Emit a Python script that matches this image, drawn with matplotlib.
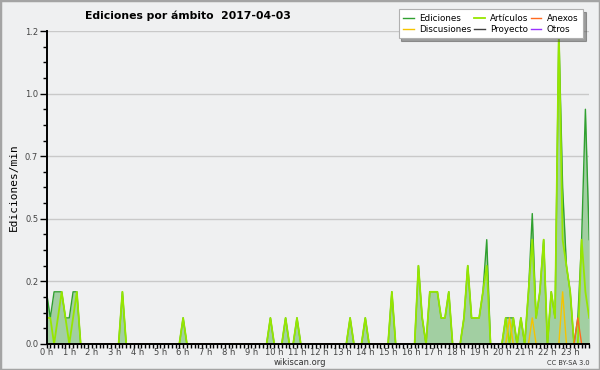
import numpy as np
import matplotlib
matplotlib.use("Agg")
import matplotlib.pyplot as plt
from matplotlib.patches import Rectangle
from matplotlib.ticker import FixedLocator, MultipleLocator

# ─── Data: edits per minute, one value per 10 minutes (144 bins) ──────────────
# each row = 2 hours (12 bins)
ediciones = [
    0.2, 0.1, 0.2, 0.2, 0.2, 0.1, 0.1, 0.2, 0.2, 0, 0, 0,
    0, 0, 0, 0, 0, 0, 0, 0, 0.2, 0, 0, 0,
    0, 0, 0, 0, 0, 0, 0, 0, 0, 0, 0, 0,
    0.1, 0, 0, 0, 0, 0, 0, 0, 0, 0, 0, 0,
    0, 0, 0, 0, 0, 0, 0, 0, 0, 0, 0, 0.1,
    0, 0, 0, 0.1, 0, 0, 0.1, 0, 0, 0, 0, 0,
    0, 0, 0, 0, 0, 0, 0, 0, 0.1, 0, 0, 0,
    0.1, 0, 0, 0, 0, 0, 0, 0.2, 0, 0, 0, 0,
    0, 0, 0.3, 0.1, 0, 0.2, 0.2, 0.2, 0.1, 0.1, 0.2, 0,
    0, 0, 0.1, 0.3, 0.1, 0.1, 0.1, 0.2, 0.4, 0, 0, 0,
    0, 0.1, 0.1, 0.1, 0, 0.1, 0, 0.2, 0.5, 0.1, 0.2, 0.4,
    0, 0.2, 0.1, 1.2, 0.6, 0.3, 0.2, 0, 0.1, 0.4, 0.9, 0.4,
]
articulos = [
    0.1, 0.1, 0, 0.1, 0.2, 0.1, 0, 0.1, 0.2, 0, 0, 0,
    0, 0, 0, 0, 0, 0, 0, 0, 0.2, 0, 0, 0,
    0, 0, 0, 0, 0, 0, 0, 0, 0, 0, 0, 0,
    0.1, 0, 0, 0, 0, 0, 0, 0, 0, 0, 0, 0,
    0, 0, 0, 0, 0, 0, 0, 0, 0, 0, 0, 0.1,
    0, 0, 0, 0.1, 0, 0, 0.1, 0, 0, 0, 0, 0,
    0, 0, 0, 0, 0, 0, 0, 0, 0.1, 0, 0, 0,
    0.1, 0, 0, 0, 0, 0, 0, 0.2, 0, 0, 0, 0,
    0, 0, 0.3, 0.1, 0, 0.2, 0.2, 0.2, 0.1, 0.1, 0.2, 0,
    0, 0, 0.1, 0.3, 0.1, 0.1, 0.1, 0.2, 0.3, 0, 0, 0,
    0, 0.1, 0, 0.1, 0, 0.1, 0, 0.2, 0.4, 0.1, 0.2, 0.4,
    0, 0.2, 0.1, 1.2, 0.4, 0.3, 0.2, 0, 0, 0.4, 0.2, 0.1,
]
# sparse namespaces: {bin: value}
discusiones_pts = {122: 0.1, 128: 0.1, 136: 0.2}
anexos_pts = {140: 0.1}
proyecto_pts = {}
otros_pts = {}

hour_labels = [f"{h} h" for h in range(24)]

# ─── Colours ──────────────────────────────────────────────────────────────────
BG      = "#eff0f1"
BORDER  = "#a4a4a4"
FILL_C  = "#a2cfa2"
ED_C    = "#30a030"
ART_C   = "#96e600"
DISC_C  = "#f5c400"
ANEX_C  = "#ff6a20"
PROY_C  = "#404040"
OTROS_C = "#9933ff"
GRID_C  = "#c9c9c9"
TICK_C  = "#444444"

N = len(ediciones)
x = np.arange(N)


def dense(pts):
    arr = np.zeros(N)
    for k, v in pts.items():
        arr[k] = v
    return arr


ed = np.array(ediciones)
art = np.array(articulos)
disc = dense(discusiones_pts)
anex = dense(anexos_pts)
proy = dense(proyecto_pts)
otros = dense(otros_pts)

fig = plt.figure(figsize=(6, 3.7), dpi=100, facecolor=BG)
fig.patches.append(Rectangle((0, 0), 1, 1, transform=fig.transFigure,
                             fill=False, edgecolor=BORDER, linewidth=2.5))

ax = fig.add_axes([0.0775, 0.0703, 0.9045, 0.8459])
ax.set_facecolor(BG)

ax.fill_between(x, ed, color=FILL_C, lw=0, zorder=2)
l_ed, = ax.plot(x, ed, color=ED_C, lw=1.0, zorder=3, label="Ediciones")
l_art, = ax.plot(x, art, color=ART_C, lw=1.3, zorder=4, label="Artículos")
l_disc, = ax.plot(x, disc, color=DISC_C, lw=1.0, zorder=5, label="Discusiones")
l_anex, = ax.plot(x, anex, color=ANEX_C, lw=1.0, zorder=5, label="Anexos")
l_proy, = ax.plot(x, proy, color=PROY_C, lw=1.0, zorder=1, label="Proyecto")
l_otros, = ax.plot(x, otros, color=OTROS_C, lw=1.0, zorder=1, label="Otros")

ymax = ed.max()
ax.set_xlim(0, N - 1)
ax.set_ylim(0, ymax)

yt = np.linspace(0, ymax, 6)
ax.yaxis.set_major_locator(FixedLocator(yt))
ax.set_yticklabels([f"{v:.1f}" for v in yt])
ax.yaxis.set_minor_locator(MultipleLocator(ymax / 20))
ax.xaxis.set_major_locator(FixedLocator(np.arange(0, N, 6)))
ax.set_xticklabels(hour_labels)
ax.xaxis.set_minor_locator(MultipleLocator(1))

ax.tick_params(axis="both", which="both", direction="out", colors="black",
               labelcolor=TICK_C, labelsize=6, width=1)
ax.tick_params(axis="y", which="major", length=5, pad=1)
ax.tick_params(axis="y", which="minor", length=3)
ax.tick_params(axis="x", which="major", length=3, pad=0)
ax.tick_params(axis="x", which="minor", length=3)

for s in ("top", "right"):
    ax.spines[s].set_visible(False)
for s in ("left", "bottom"):
    ax.spines[s].set_linewidth(1.4)
    ax.spines[s].set_zorder(6)

ax.grid(axis="y", which="major", color=GRID_C, lw=1, zorder=0)
ax.set_axisbelow(True)

ax.set_ylabel("Ediciones/min", fontsize=8, family="DejaVu Sans Mono",
              color="black", labelpad=4)

fig.text(0.313, 0.958, "Ediciones por ámbito  2017-04-03", ha="center",
         va="center", fontsize=7.8, fontweight="bold", color="black")
fig.text(0.5, 0.02, "wikiscan.org", ha="center", va="center",
         fontsize=6, color="#333333")
fig.text(0.983, 0.02, "CC BY-SA 3.0", ha="right", va="center",
         fontsize=4.8, color="#333333")

handles = [l_ed, l_disc, l_art, l_proy, l_anex, l_otros]
leg = fig.legend(handles, [h.get_label() for h in handles], ncol=3,
                 loc="upper right", bbox_to_anchor=(583 / 600, 1 - 9 / 370),
                 fontsize=6.3, frameon=True, fancybox=False, shadow=True,
                 handlelength=1.2, handletextpad=0.6, columnspacing=0.3,
                 labelspacing=0.2, borderpad=0.55, borderaxespad=0)
leg.get_frame().set_facecolor("white")
leg.get_frame().set_edgecolor("#b0b0b0")
leg.get_frame().set_linewidth(0.8)
leg.set_zorder(10)

fig.savefig("out.png", dpi=100, facecolor=BG)
